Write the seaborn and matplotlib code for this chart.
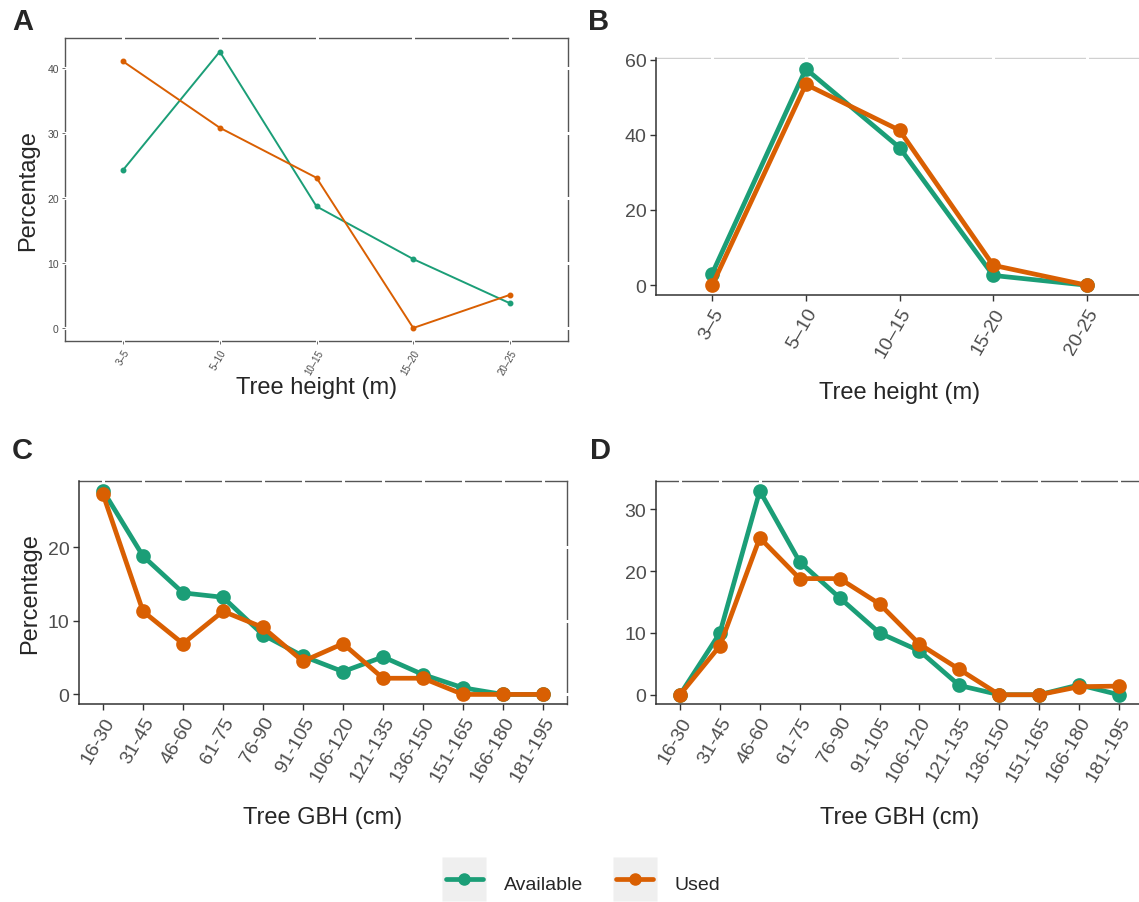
import matplotlib
matplotlib.use("Agg")
import matplotlib.pyplot as plt
import seaborn as sns
import pandas as pd
from matplotlib.lines import Line2D
from matplotlib.legend_handler import HandlerTuple

# ---------------- data ----------------
height_classes_A = ["3–5", "5–10", "10–15", "15–20", "20–25"]
height_classes_B = ["3–5", "5–10", "10–15", "15-20", "20-25"]
A_available = [24.3, 42.5, 18.7, 10.6, 3.8]
A_used = [41.0, 30.8, 23.1, 0.0, 5.1]
B_available = [3.1, 57.5, 36.6, 2.6, 0.0]
B_used = [0.0, 53.4, 41.2, 5.3, 0.0]

gbh_classes = ["16-30", "31-45", "46-60", "61-75", "76-90", "91-105",
               "106-120", "121-135", "136-150", "151-165", "166-180", "181-195"]
C_available = [27.7, 18.8, 13.8, 13.2, 8.1, 5.2, 3.1, 5.1, 2.7, 0.9, 0.0, 0.0]
C_used = [27.2, 11.3, 6.9, 11.3, 9.1, 4.5, 6.9, 2.2, 2.2, 0.0, 0.0, 0.0]
D_available = [0.0, 10.0, 33.0, 21.5, 15.7, 10.0, 7.1, 1.5, 0.0, 0.0, 1.6, 0.0]
D_used = [0.0, 7.9, 25.4, 18.8, 18.8, 14.7, 8.2, 4.1, 0.0, 0.0, 1.3, 1.4]

groups = ["Available", "Used"]
colors = ["#1B9E77", "#D95F02"]

sns.set_theme(style="white")
plt.rcParams["font.family"] = ["Liberation Sans", "DejaVu Sans"]

W, H = 1139, 903
fig = plt.figure(figsize=(W / 100, H / 100), dpi=100)


def frac(left, top, right, bottom):
    return [left / W, 1 - bottom / H, (right - left) / W, (bottom - top) / H]


def make_df(classes, avail, used):
    return pd.DataFrame({
        "cls": classes * 2,
        "pct": list(avail) + list(used),
        "group": ["Available"] * len(classes) + ["Used"] * len(classes),
    })


def panel(rect, classes, avail, used, ylim, yticks, lw, ms, small=False,
          top_color="#555555", right_color="#555555"):
    ax = fig.add_axes(rect)
    df = make_df(classes, avail, used)
    sns.pointplot(data=df, x="cls", y="pct", hue="group", order=classes,
                  hue_order=groups, palette=colors, markers="o", linestyles="-",
                  errorbar=None, dodge=False, legend=False, ax=ax,
                  markersize=ms, linewidth=lw)
    n = len(classes)
    ax.set_xlim(-0.6, n - 1 + 0.6)
    ax.set_ylim(*ylim)
    ax.set_yticks(yticks)
    ax.set_xticks(range(n))
    ax.set_xlabel("")
    ax.set_ylabel("")
    if small:
        ax.set_xticklabels(classes, rotation=60, ha="right", rotation_mode="anchor",
                           fontsize=7, color="#4D4D4D")
        ax.tick_params(axis="y", labelsize=7.5, labelcolor="#4D4D4D")
        ax.tick_params(length=2.5, width=0.6, color="#555555", pad=2)
        for s in ax.spines.values():
            s.set_color("#555555")
            s.set_linewidth(1.0)
    else:
        ax.set_xticklabels(classes, rotation=60, ha="right", rotation_mode="anchor",
                           fontsize=14, color="#4D4D4D")
        ax.tick_params(axis="y", labelsize=14, labelcolor="#4D4D4D")
        ax.tick_params(length=4, width=1.0, color="#333333", pad=3)
        for side in ["left", "bottom"]:
            ax.spines[side].set_color("#333333")
            ax.spines[side].set_linewidth(1.1)
        ax.spines["top"].set_color(top_color)
        ax.spines["right"].set_color(right_color)
        ax.spines["top"].set_linewidth(1.0)
        ax.spines["right"].set_linewidth(1.0)
    ax.tick_params(bottom=True, left=True)
    # white grid lines (only visible where they cut the top/right border)
    ax.set_axisbelow(True)
    ax.grid(True, color="white", linewidth=2.2, solid_capstyle="projecting")
    ax.spines["top"].set_zorder(0.2)
    ax.spines["right"].set_zorder(0.2)
    if small:
        ax.spines["left"].set_zorder(0.2)
        ax.spines["bottom"].set_zorder(0.2)
    for gl in ax.get_xgridlines() + ax.get_ygridlines():
        gl.set_clip_on(False)
    return ax


# Panel A
axA = panel(frac(65, 39, 568, 342), height_classes_A, A_available, A_used,
            (-2.0, 44.6), [0, 10, 20, 30, 40], lw=1.4, ms=3.2, small=True)
axA.set_xlabel("Tree height (m)", fontsize=17, va="center")
axA.xaxis.set_label_coords(0.5, -0.152)
axA.set_ylabel("Percentage", fontsize=17, va="center")
axA.yaxis.set_label_coords(-0.074, 0.5)

# Panel B
axB = panel(frac(656, 59, 1143, 296), height_classes_B, B_available, B_used,
            (-2.6, 60.4), [0, 20, 40, 60], lw=3.4, ms=8, top_color="#cfcfcf")
axB.set_xlabel("Tree height (m)", fontsize=17, va="center")
axB.xaxis.set_label_coords(0.5, -0.41)

# Panel C
axC = panel(frac(79, 482, 567, 705), gbh_classes, C_available, C_used,
            (-1.3, 29.0), [0, 10, 20], lw=3.4, ms=8)
axC.set_xlabel("Tree GBH (cm)", fontsize=17, va="center")
axC.xaxis.set_label_coords(0.5, -0.507)
axC.set_ylabel("Percentage", fontsize=17, va="center")
axC.yaxis.set_label_coords(-0.100, 0.5)

# Panel D
axD = panel(frac(656, 482, 1143, 705), gbh_classes, D_available, D_used,
            (-1.5, 34.6), [0, 10, 20, 30], lw=3.4, ms=8)
axD.set_xlabel("Tree GBH (cm)", fontsize=17, va="center")
axD.xaxis.set_label_coords(0.5, -0.507)

# Panel letters
for txt, x, y in [("A", 12, 22), ("B", 588, 22), ("C", 12, 451), ("D", 590, 451)]:
    fig.text(x / W, 1 - y / H, txt, fontsize=21, fontweight="bold",
             va="center", ha="left")

# Legend (gray key background + line with point)
handles = []
for c in colors:
    bg = Line2D([], [], linestyle="none", marker="s", markersize=31,
                markerfacecolor="#EFEFEF", markeredgecolor="none")
    ln = Line2D([], [], color=c, lw=3.4, marker="o", markersize=8)
    handles.append((bg, ln))
fig.legend(handles, groups, handler_map={tuple: HandlerTuple(ndivide=1, pad=0)},
           loc="center", bbox_to_anchor=(0.512, 0.022), ncol=2, frameon=False,
           fontsize=14, handlelength=1.9, handleheight=1.5, handletextpad=1.1,
           columnspacing=1.7, numpoints=1)

fig.savefig("out.png", dpi=100)
